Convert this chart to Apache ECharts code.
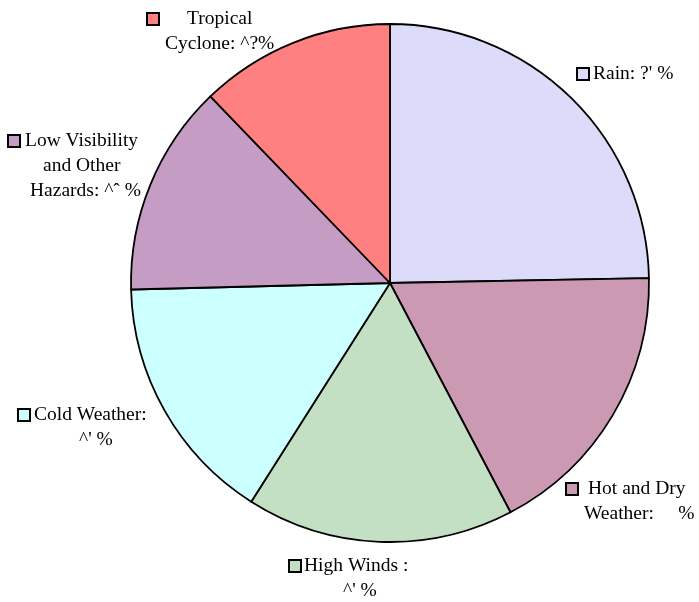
<!DOCTYPE html>
<html>
<head>
<meta charset="utf-8">
<script src="https://cdn.jsdelivr.net/npm/echarts@6/dist/echarts.min.js"></script>
<style>
  html, body { margin: 0; padding: 0; background: #ffffff; }
  #chart { width: 699px; height: 602px; }
</style>
</head>
<body>
<div id="chart"></div>
<script>
// Hazard categories, clockwise from 12 o'clock
const categories = ['Rain', 'Hot and Dry Weather', 'High Winds', 'Cold Weather',
                    'Low Visibility and Other Hazards', 'Tropical Cyclone'];
// Share of each category (percent)
const shares = [24.7, 17.6, 16.7, 15.6, 13.2, 12.2];
// Percentage text as printed beside each category
const shareTexts = ["?' %", "    %", "^' %", "^' %", "^\u02c6 %", "^?%"];

// How each label's words break over lines
const labelText = [
  ['Rain: ' + shareTexts[0]],
  ['Hot and Dry', 'Weather: ' + shareTexts[1]],
  ['High Winds :', shareTexts[2]],
  ['Cold Weather:', shareTexts[3]],
  ['Low Visibility', 'and Other', 'Hazards: ' + shareTexts[4]],
  ['Tropical', 'Cyclone: ' + shareTexts[5]]
];

const colors = ['#DCDCFA', '#CC99B3', '#C4E0C4', '#CCFFFF', '#C49CC4', '#FF8080'];

// Label block placement: left x, top y, gap after swatch, indents of following lines
const labelPlace = [
  { x: 578, y: 61.5,  gap: 5,  indents: [] },
  { x: 567, y: 476.5, gap: 11, indents: [17] },
  { x: 290, y: 553.5, gap: 4,  indents: [53] },
  { x: 19,  y: 402.5, gap: 5,  indents: [60] },
  { x: 9,   y: 128.5, gap: 6,  indents: [34, 21] },
  { x: 148, y: 6.5,   gap: 29, indents: [17] }
];

const FONT = '"Liberation Serif", "Times New Roman", Times, serif';
const rich = {};
colors.forEach(function (c, i) {
  rich['b' + i] = { width: 10, height: 10, backgroundColor: c, borderColor: '#000', borderWidth: 2, lineHeight: 25 };
});
// text style with a left offset of w pixels
function textKey(w) {
  const k = 't' + w;
  if (!rich[k]) {
    rich[k] = { fontFamily: FONT, fontSize: 19.5, color: '#000', lineHeight: 25, padding: [0, 0, 0, w] };
  }
  return k;
}

const labels = labelText.map(function (lines, i) {
  const p = labelPlace[i];
  const out = ['{b' + i + '|}{' + textKey(p.gap) + '|' + lines[0] + '}'];
  for (let j = 1; j < lines.length; j++) {
    out.push('{' + textKey(p.indents[j - 1]) + '|' + lines[j] + '}');
  }
  return out.join('\n');
});

const data = categories.map(function (name, i) {
  return { name: name, value: shares[i], itemStyle: { color: colors[i] } };
});

const chart = echarts.init(document.getElementById('chart'), null, { renderer: 'canvas' });
chart.setOption({
  backgroundColor: '#ffffff',
  animation: false,
  series: [{
    type: 'pie',
    center: [390, 283],
    radius: 259,
    startAngle: 90,
    clockwise: true,
    avoidLabelOverlap: false,
    data: data,
    itemStyle: { borderColor: '#000', borderWidth: 1.8 },
    emphasis: { disabled: true },
    label: {
      show: true,
      position: 'outside',
      formatter: function (params) { return labels[params.dataIndex]; },
      rich: rich,
      align: 'left'
    },
    labelLine: { show: false },
    labelLayout: function (params) {
      const p = labelPlace[params.dataIndex];
      return { x: p.x, y: p.y, align: 'left', verticalAlign: 'top' };
    }
  }]
});
</script>
</body>
</html>
